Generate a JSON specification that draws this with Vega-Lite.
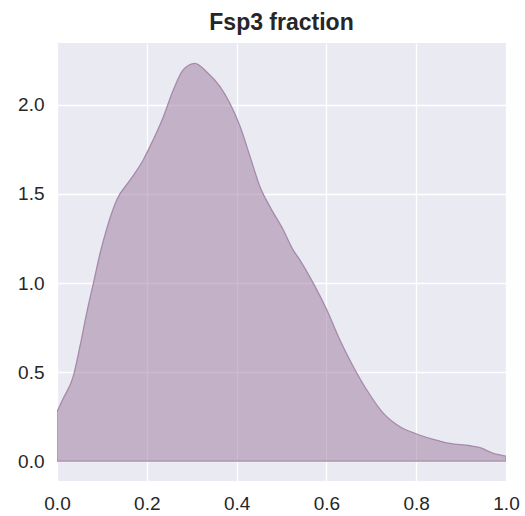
{
  "$schema": "https://vega.github.io/schema/vega-lite/v6.json",
  "autosize": "none",
  "width": 449,
  "height": 438,
  "padding": {"left": 57, "top": 43, "right": 19, "bottom": 35},
  "background": "white",
  "title": {"text": "Fsp3 fraction", "font": "Liberation Sans", "fontSize": 23, "fontWeight": "bold", "color": "#262626", "offset": 8},
  "config": {
    "view": {"fill": "#EAEAF2", "stroke": null},
    "axis": {"domain": false, "ticks": false, "grid": true, "gridColor": "white", "gridWidth": 1.3, "labelFont": "Liberation Sans", "labelFontSize": 19, "labelColor": "#262626", "labelPadding": 13, "labelFlush": false, "labelOverlap": false, "title": null}
  },
  "data": {"values": [
    {"x": 0.0, "y": 0.277},
    {"x": 0.014, "y": 0.352},
    {"x": 0.036, "y": 0.474},
    {"x": 0.051, "y": 0.642},
    {"x": 0.066, "y": 0.83},
    {"x": 0.081, "y": 0.998},
    {"x": 0.096, "y": 1.167},
    {"x": 0.111, "y": 1.307},
    {"x": 0.133, "y": 1.466},
    {"x": 0.163, "y": 1.579},
    {"x": 0.192, "y": 1.691},
    {"x": 0.207, "y": 1.766},
    {"x": 0.237, "y": 1.934},
    {"x": 0.259, "y": 2.084},
    {"x": 0.281, "y": 2.197},
    {"x": 0.307, "y": 2.234},
    {"x": 0.333, "y": 2.187},
    {"x": 0.363, "y": 2.103},
    {"x": 0.385, "y": 2.01},
    {"x": 0.408, "y": 1.878},
    {"x": 0.43, "y": 1.71},
    {"x": 0.452, "y": 1.541},
    {"x": 0.474, "y": 1.429},
    {"x": 0.504, "y": 1.298},
    {"x": 0.526, "y": 1.185},
    {"x": 0.541, "y": 1.129},
    {"x": 0.571, "y": 0.998},
    {"x": 0.601, "y": 0.848},
    {"x": 0.63, "y": 0.68},
    {"x": 0.66, "y": 0.53},
    {"x": 0.69, "y": 0.399},
    {"x": 0.727, "y": 0.268},
    {"x": 0.764, "y": 0.193},
    {"x": 0.801, "y": 0.152},
    {"x": 0.838, "y": 0.122},
    {"x": 0.875, "y": 0.099},
    {"x": 0.92, "y": 0.086},
    {"x": 0.942, "y": 0.075},
    {"x": 0.972, "y": 0.043},
    {"x": 1.0, "y": 0.028}
  ]},
  "mark": {"type": "area", "interpolate": "monotone", "fill": "#9C789C", "fillOpacity": 0.5, "stroke": "#A68AAA", "strokeWidth": 1.3, "clip": true},
  "encoding": {
    "x": {"field": "x", "type": "quantitative", "scale": {"domain": [0, 1], "nice": false}, "axis": {"values": [0, 0.2, 0.4, 0.6, 0.8, 1.0], "format": ".1f"}},
    "y": {"field": "y", "type": "quantitative", "scale": {"domain": [-0.112, 2.348], "nice": false, "zero": false}, "axis": {"values": [0, 0.5, 1.0, 1.5, 2.0], "format": ".1f"}},
    "y2": {"datum": 0}
  }
}
